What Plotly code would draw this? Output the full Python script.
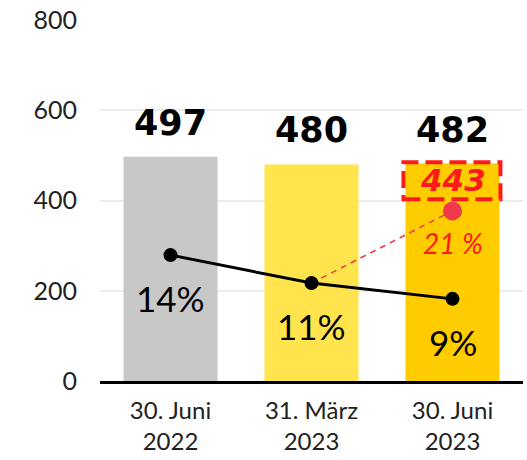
import plotly.graph_objects as go

# Stichtage und Werte
categories = ["30. Juni<br>2022", "31. März<br>2023", "30. Juni<br>2023"]
bar_values = [497, 480, 482]
bar_colors = ["#c8c8c8", "#ffe44d", "#ffcc00"]
ratio_values = [279, 217, 182]
ratio_labels = ["14%", "11%", "9%"]
proj_value = 377
proj_label = "21 %"
proj_total = 443
y_ticks = [0, 200, 400, 600, 800]

FONT = "Lato"
BOLD_FONT = "DejaVu Sans"

fig = go.Figure()

fig.add_trace(go.Bar(
    x=categories, y=bar_values, marker=dict(color=bar_colors, line=dict(width=0)),
    width=0.667, hoverinfo="skip",
))

# gestrichelte Projektion vom März-Wert zum Zielpunkt
fig.add_trace(go.Scatter(
    x=[categories[1], categories[2]], y=[ratio_values[1], proj_value],
    mode="lines", line=dict(color="#ee3a4a", width=1.5, dash="6px,5px"),
    hoverinfo="skip",
))
fig.add_trace(go.Scatter(
    x=[categories[2]], y=[proj_value], mode="markers",
    marker=dict(color="#ee3a4a", size=19), hoverinfo="skip",
))

fig.add_trace(go.Scatter(
    x=categories, y=ratio_values, mode="lines+markers",
    line=dict(color="black", width=3),
    marker=dict(color="black", size=14), hoverinfo="skip",
))

annotations = []
for c, v in zip(categories, bar_values):
    annotations.append(dict(
        x=c, y=v, text=f"<b>{v}</b>", showarrow=False, yanchor="middle", yshift=34,
        font=dict(family=BOLD_FONT, size=35, color="black"),
    ))
for c, v, t in zip(categories, ratio_values, ratio_labels):
    annotations.append(dict(
        x=c, y=v, text=t, showarrow=False, yanchor="middle", yshift=-43,
        font=dict(family=FONT, size=35, color="black"),
    ))
annotations.append(dict(
    x=categories[2], y=proj_value, text=f"<i>{proj_label}</i>", showarrow=False,
    yanchor="middle", yshift=-32, font=dict(family=FONT, size=28, color="#ff1a1a"),
))
annotations.append(dict(
    x=categories[2], y=proj_total, text=f"<b><i>{proj_total}</i></b>", showarrow=False,
    yanchor="middle", yshift=1, font=dict(family=BOLD_FONT, size=31, color="#ff1a1a"),
))

fig.update_layout(
    width=527, height=460,
    margin=dict(l=100, r=4, t=20, b=79),
    paper_bgcolor="white", plot_bgcolor="white",
    showlegend=False, bargap=0.333,
    annotations=annotations,
    shapes=[dict(
        type="rect", xref="x", yref="y",
        x0=1.652, x1=2.34, y0=proj_total - 40, y1=proj_total + 42,
        line=dict(color="#ff1a1a", width=4, dash="17px,7px"),
        fillcolor="rgba(0,0,0,0)",
    )],
    xaxis=dict(
        showline=True, linecolor="black", linewidth=3, showgrid=False,
        ticks="", tickfont=dict(family=FONT, size=24, color="#222"),
        ticklabelstandoff=6, range=[-0.5, 2.5],
    ),
    yaxis=dict(
        range=[0, 800], tickvals=y_ticks, showgrid=True, gridcolor="#ececec",
        gridwidth=2, zeroline=False, showline=False, ticks="",
        ticklabelstandoff=22,
        tickfont=dict(family=FONT, size=25, color="#222"),
    ),
)

fig.write_html("out.html")
